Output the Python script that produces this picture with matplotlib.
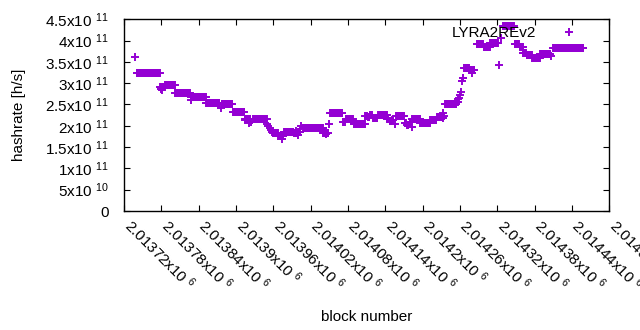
#!/usr/bin/env python3
"""
Hashrate per block for LYRA2REv2, gnuplot look-alike
"""

import numpy as np
import matplotlib
matplotlib.use('Agg')
import matplotlib.pyplot as plt
import matplotlib.transforms as mtransforms
from matplotlib.ticker import FixedLocator, FuncFormatter

plt.rcParams['font.family'] = ['Liberation Sans', 'DejaVu Sans']
plt.rcParams['mathtext.fontset'] = 'custom'
plt.rcParams['mathtext.rm'] = 'Liberation Sans'
plt.rcParams['mathtext.default'] = 'regular'

# hashrate stays constant between retargets, so the data is kept as runs:
# first block / last block (offset from BASE_BLOCK) and hashrate in 1e11 h/s
BASE_BLOCK = 2013720
run_first = [18, 20, 58, 59, 60, 61, 62, 66, 82, 107,
             108, 132, 155, 157, 175, 194, 195, 200, 201, 204,
             207, 230, 232, 234, 236, 238, 240, 248, 253, 254,
             257, 273, 276, 277, 279, 280, 284, 288, 320, 325,
             326, 330, 331, 352, 356, 369, 388, 392, 396, 400,
             408, 423, 427, 431, 435, 437, 451, 455, 459, 462,
             463, 476, 492, 503, 512, 513, 514, 516, 535, 537,
             538, 540, 541, 543, 544, 547, 556, 559, 561, 567,
             578, 589, 603, 606, 609, 628, 636, 642, 647, 656,
             669, 686, 690]
run_last = [18, 57, 58, 59, 60, 61, 64, 81, 106, 107,
            131, 153, 155, 174, 193, 194, 199, 200, 203, 204,
            229, 230, 232, 234, 236, 238, 247, 252, 253, 256,
            272, 275, 276, 278, 279, 283, 284, 319, 323, 325,
            328, 330, 351, 355, 368, 387, 390, 394, 398, 407,
            422, 425, 429, 433, 435, 450, 453, 457, 460, 462,
            475, 491, 502, 511, 512, 513, 514, 534, 536, 537,
            538, 540, 541, 543, 545, 554, 558, 559, 563, 577,
            588, 601, 603, 606, 627, 635, 641, 646, 655, 668,
            684, 686, 738]
run_rate = [3.62, 3.23, 2.90, 2.86, 2.92, 2.84, 2.90, 2.95, 2.77, 2.61,
            2.68, 2.54, 2.41, 2.51, 2.33, 2.14, 2.16, 2.07, 2.15, 2.08,
            2.17, 2.04, 1.99, 1.94, 1.90, 1.86, 1.83, 1.76, 1.69, 1.76,
            1.85, 1.84, 1.88, 1.84, 1.79, 1.85, 1.99, 1.94, 1.84, 1.80,
            1.84, 2.05, 2.30, 2.08, 2.16, 2.04, 2.24, 2.20, 2.25, 2.18,
            2.26, 2.16, 2.12, 2.14, 2.04, 2.22, 2.07, 2.03, 2.08, 1.97,
            2.17, 2.07, 2.13, 2.21, 2.31, 2.18, 2.24, 2.51, 2.57, 2.62,
            2.66, 2.72, 2.79, 3.05, 3.12, 3.36, 3.30, 3.24, 3.30, 3.93,
            3.85, 3.95, 3.42, 4.05, 4.35, 3.93, 3.86, 3.71, 3.66, 3.58,
            3.68, 3.64, 3.82]

x_ticks = np.arange(2013720, 2014501, 60)
y_ticks = np.arange(0, 4.51e11, 0.5e11)
COLOR = '#9400D3'
FS = 11


def sci_label(v, pos=None):
    """gnuplot style 'mantissa x10^exp' label"""
    if v == 0:
        return '0'
    e = int(np.floor(np.log10(abs(v)) + 1e-9))
    m = v / 10 ** e
    return f'{m:g}x10 $^{{{e}}}$'


def main():
    assert len(run_first) == len(run_last) == len(run_rate)

    blocks = []
    rates = []
    for s, e, v in zip(run_first, run_last, run_rate):
        for b in range(s, e + 1):
            blocks.append(BASE_BLOCK + b)
            rates.append(v * 1e11)

    fig = plt.figure(figsize=(6.4, 3.3), dpi=100)
    ax = fig.add_axes([0.194, 0.3606, 0.758, 0.581])

    ax.plot(blocks, rates, linestyle='none', marker='+', color=COLOR,
            markersize=5.5, markeredgewidth=1.4, label='LYRA2REv2')

    ax.set_xlim(x_ticks[0], x_ticks[-1])
    ax.set_ylim(0, 4.5e11)
    ax.xaxis.set_major_locator(FixedLocator(x_ticks))
    ax.yaxis.set_major_locator(FixedLocator(y_ticks))
    ax.xaxis.set_major_formatter(FuncFormatter(sci_label))
    ax.yaxis.set_major_formatter(FuncFormatter(sci_label))

    ax.tick_params(direction='in', top=True, right=True, length=4.5,
                   width=0.8, labelsize=FS, colors='black')
    ax.tick_params(axis='x', pad=8)
    ax.tick_params(axis='y', pad=11)
    shift = mtransforms.ScaledTranslation(3 / 100, 0, fig.dpi_scale_trans)
    for lab in ax.get_xticklabels():
        lab.set_rotation(-45)
        lab.set_ha('left')
        lab.set_va('center')
        lab.set_rotation_mode('anchor')
        lab.set_transform(lab.get_transform() + shift)
    for sp in ax.spines.values():
        sp.set_linewidth(1.0)

    ax.set_xlabel('block number', fontsize=FS, labelpad=12)
    ax.set_ylabel('hashrate [h/s]', fontsize=FS, labelpad=14)

    ax.legend(loc='upper right', bbox_to_anchor=(0.977, 1.037), frameon=False,
              markerfirst=False, handletextpad=1.15, fontsize=FS)

    fig.savefig('out.png', dpi=100)
    plt.close(fig)
    return 0


if __name__ == '__main__':
    main()
